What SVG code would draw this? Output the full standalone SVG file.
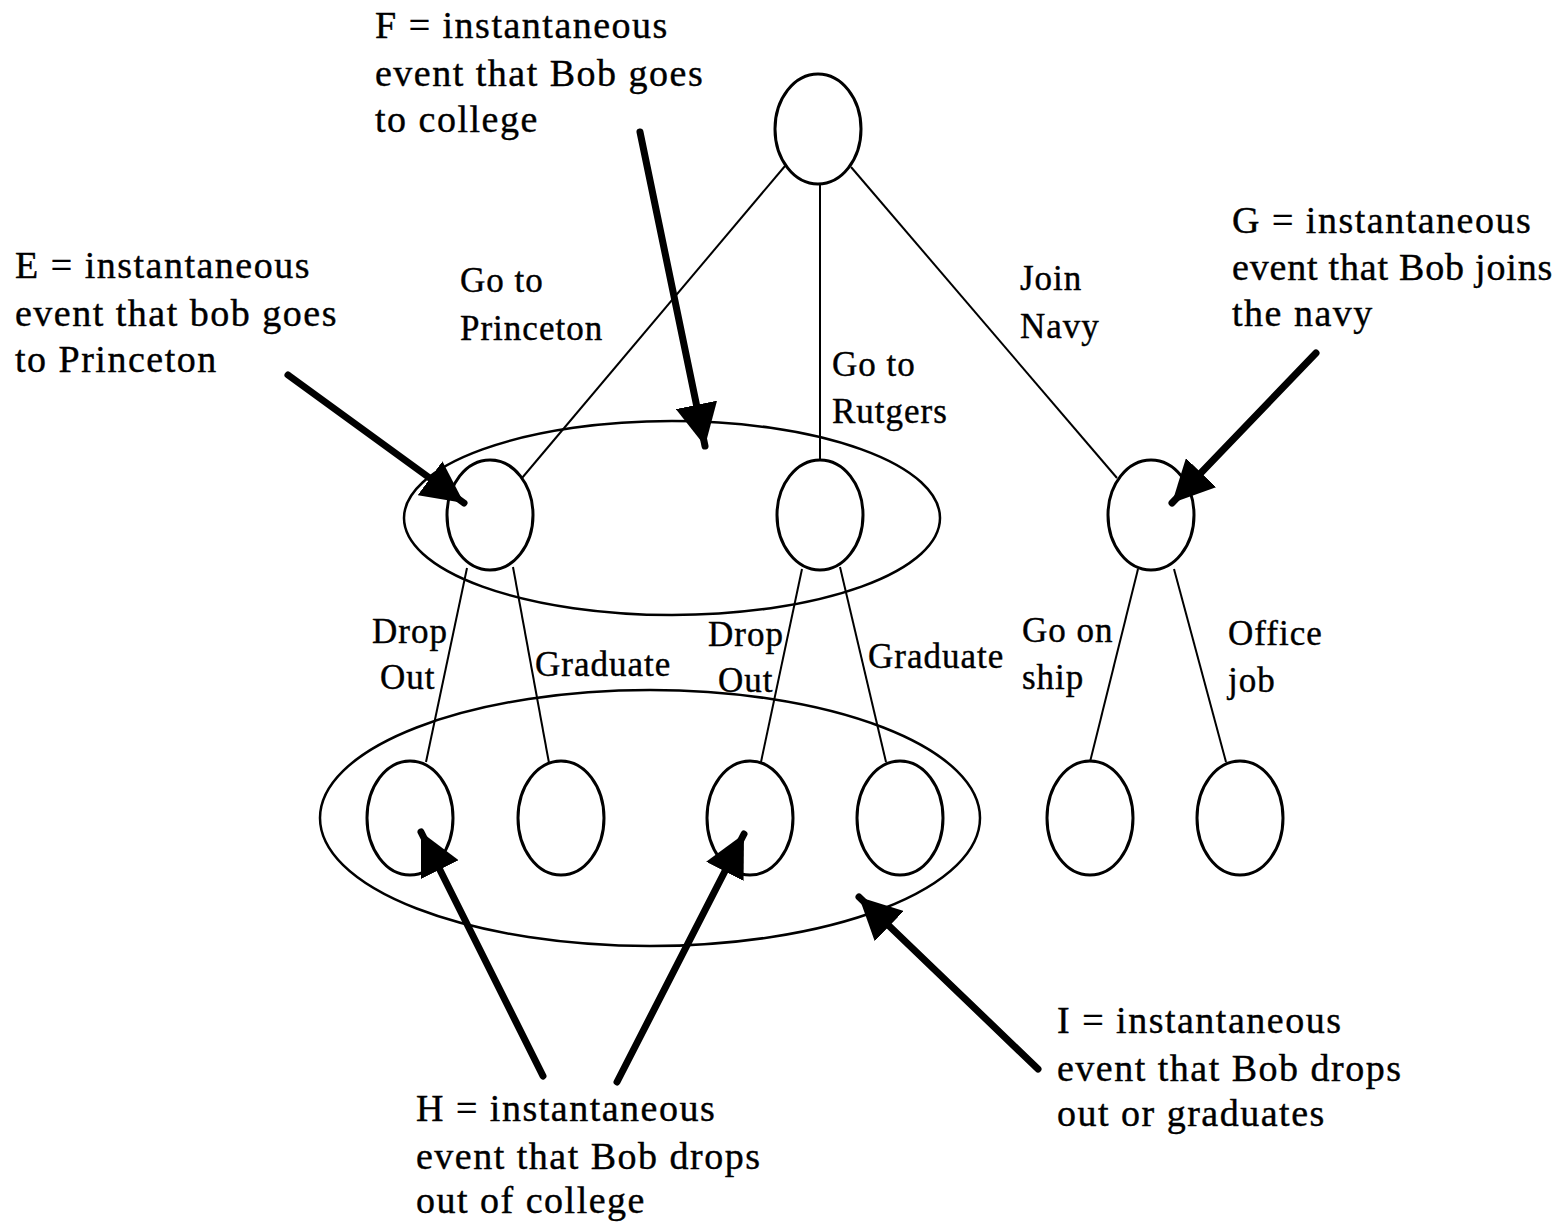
<svg xmlns="http://www.w3.org/2000/svg" width="1567" height="1225" viewBox="0 0 1567 1225">
<style>
.n{fill:none;stroke:#000;stroke-width:3}
.g{fill:none;stroke:#000;stroke-width:2.5}
.e{stroke:#000;stroke-width:2;fill:none}
.a{stroke:#000;stroke-width:7;stroke-linecap:round;fill:none}
text{font-family:"Liberation Serif","Times New Roman",serif;font-size:38px;letter-spacing:1.5px;fill:#000;stroke:#000;stroke-width:0.4}
text.l{font-size:35px;letter-spacing:1px}
</style>
<defs>
<marker id="ah" viewBox="0 0 10 10" refX="10" refY="5" markerWidth="6" markerHeight="6" markerUnits="strokeWidth" orient="auto">
<path d="M0,0 L10,5 L0,10 z" fill="#000"/>
</marker>
</defs>
<rect width="1567" height="1225" fill="#fff"/>
<g id="groups">
<ellipse id="setF" class="g" cx="672" cy="518" rx="268" ry="97"/>
<ellipse id="setI" class="g" cx="650" cy="818" rx="330" ry="128"/>
</g>
<g id="connectors">
<line class="e" x1="785" y1="166" x2="522" y2="478"/>
<line class="e" x1="820" y1="184" x2="820" y2="460"/>
<line class="e" x1="851" y1="167" x2="1117" y2="478"/>
<line class="e" x1="467" y1="568" x2="426" y2="762"/>
<line class="e" x1="513" y1="567" x2="549" y2="763"/>
<line class="e" x1="802" y1="569" x2="761" y2="762"/>
<line class="e" x1="840" y1="567" x2="886" y2="762"/>
<line class="e" x1="1138" y1="569" x2="1090" y2="762"/>
<line class="e" x1="1174" y1="569" x2="1226" y2="762"/>
</g>
<g id="nodes">
<g id="root"><ellipse class="n" cx="818" cy="129" rx="43" ry="55"/></g>
<g id="princeton"><ellipse class="n" cx="490" cy="515" rx="43" ry="55"/></g>
<g id="rutgers"><ellipse class="n" cx="820" cy="515" rx="43" ry="55"/></g>
<g id="navy"><ellipse class="n" cx="1151" cy="515" rx="43" ry="55"/></g>
<g id="p-drop"><ellipse class="n" cx="410" cy="818" rx="43" ry="57"/></g>
<g id="p-grad"><ellipse class="n" cx="561" cy="818" rx="43" ry="57"/></g>
<g id="r-drop"><ellipse class="n" cx="750" cy="818" rx="43" ry="57"/></g>
<g id="r-grad"><ellipse class="n" cx="900" cy="818" rx="43" ry="57"/></g>
<g id="ship"><ellipse class="n" cx="1090" cy="818" rx="43" ry="57"/></g>
<g id="office"><ellipse class="n" cx="1240" cy="818" rx="43" ry="57"/></g>
</g>
<g id="pointers">
<line class="a" x1="288" y1="375" x2="464" y2="503" marker-end="url(#ah)"/>
<line class="a" x1="640" y1="132" x2="705" y2="446" marker-end="url(#ah)"/>
<line class="a" x1="1316" y1="353" x2="1172" y2="503" marker-end="url(#ah)"/>
<line class="a" x1="543" y1="1076" x2="421" y2="832" marker-end="url(#ah)"/>
<line class="a" x1="617" y1="1082" x2="744" y2="834" marker-end="url(#ah)"/>
<line class="a" x1="1038" y1="1069" x2="859" y2="897" marker-end="url(#ah)"/>
</g>
<g id="labels">
<text x="375" y="38">F = instantaneous</text>
<text x="375" y="86">event that Bob goes</text>
<text x="375" y="132">to college</text>
<text x="15" y="278">E = instantaneous</text>
<text x="15" y="326">event that bob goes</text>
<text x="15" y="372">to Princeton</text>
<text x="1232" y="233">G = instantaneous</text>
<text x="1232" y="280" style="letter-spacing:0.8px">event that Bob joins</text>
<text x="1232" y="326">the navy</text>
<text class="l" x="460" y="292">Go to</text>
<text class="l" x="460" y="340">Princeton</text>
<text class="l" x="1020" y="290">Join</text>
<text class="l" x="1020" y="338">Navy</text>
<text class="l" x="832" y="376">Go to</text>
<text class="l" x="832" y="423">Rutgers</text>
<text class="l" x="372" y="643">Drop</text>
<text class="l" x="380" y="689">Out</text>
<text class="l" x="535" y="676">Graduate</text>
<text class="l" x="708" y="646">Drop</text>
<text class="l" x="718" y="692">Out</text>
<text class="l" x="868" y="668">Graduate</text>
<text class="l" x="1022" y="642">Go on</text>
<text class="l" x="1022" y="689">ship</text>
<text class="l" x="1228" y="645">Office</text>
<text class="l" x="1228" y="692">job</text>
<text x="1057" y="1033">I = instantaneous</text>
<text x="1057" y="1081">event that Bob drops</text>
<text x="1057" y="1126">out or graduates</text>
<text x="416" y="1121">H = instantaneous</text>
<text x="416" y="1169">event that Bob drops</text>
<text x="416" y="1213">out of college</text>
</g>
</svg>
